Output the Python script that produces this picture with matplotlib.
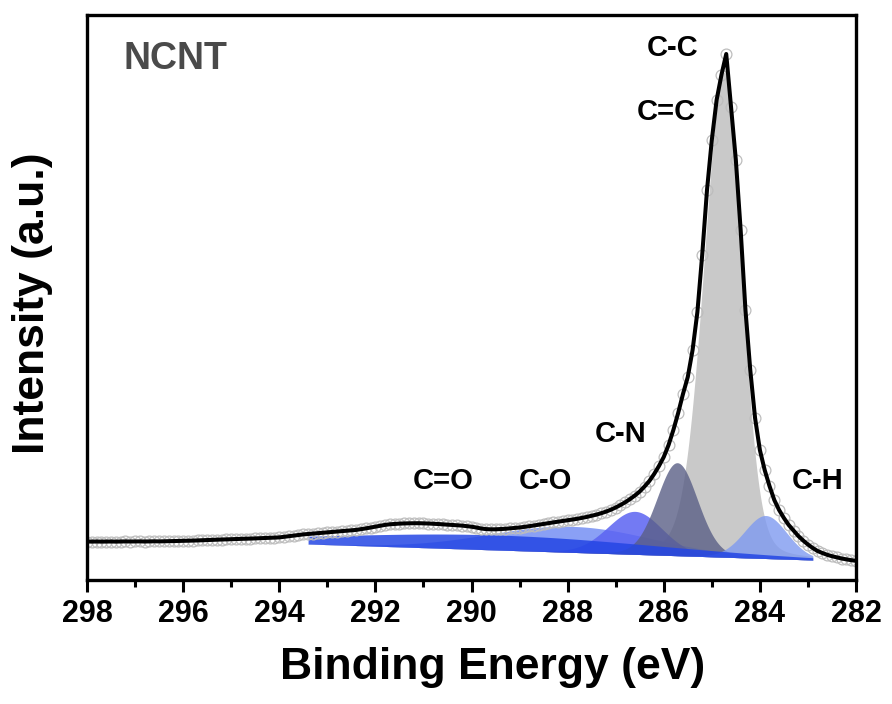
import numpy as np
import matplotlib
matplotlib.use("Agg")
import matplotlib.pyplot as plt

# measured C1s spectrum, 298.0 -> 282.0 eV in 0.1 eV steps (a.u.)
energy = np.round(np.arange(298.0, 281.95, -0.1), 1)
intensity = [
    38.5, 38.4, 38.5, 38.4, 38.5, 38.5, 38.4, 38.5, 38.6, 38.5,
    38.6, 38.6, 38.5, 38.6, 38.7, 38.6, 38.7, 38.8, 38.8, 38.9,
    39.0, 39.2, 39.4, 39.6, 39.8, 40.0, 40.2, 40.4, 40.5, 40.6,
    40.8, 41.0, 41.1, 41.3, 41.4, 41.6, 41.8, 42.0, 42.2, 42.4,
    42.6, 43.2, 43.9, 44.5, 45.1, 45.6, 46.0, 46.4, 46.8, 47.2,
    47.6, 48.0, 48.4, 48.8, 49.2, 49.6, 50.1, 50.8, 51.6, 52.5,
    53.4, 54.3, 55.1, 55.7, 56.1, 56.4, 56.6, 56.7, 56.8, 56.8,
    56.7, 56.5, 56.3, 56.0, 55.7, 55.4, 55.1, 54.8, 54.4, 53.9,
    53.3, 52.5, 51.5, 50.9, 50.7, 50.7, 50.9, 51.2, 51.6, 52.0,
    52.5, 53.1, 53.8, 54.5, 55.3, 56.1, 56.9, 57.6, 58.3, 59.0,
    59.7, 60.4, 61.2, 62.1, 63.1, 64.2, 65.4, 66.8, 68.4, 70.3,
    72.5, 75.0, 77.8, 81.0, 84.5, 88.5, 93.5, 99.0, 106, 114,
    123, 135, 150, 167, 186, 203, 230, 268, 325, 390,
    440, 480, 505, 526, 473, 420, 350, 270, 210, 162,
    130, 110, 94, 80, 70, 62, 55, 49.5, 44, 39.5,
    35.5, 32, 29, 27, 25.2, 23.8, 22.6, 21.5, 20.6, 19.8,
    19.2,
]

# fitted components: centre (eV), height, FWHM low-BE side, FWHM high-BE side, Lorentz fraction
comp_names   = ["broad", "C=O", "C-O", "C-C", "C-N", "C-H"]
comp_centre  = [289.5, 287.9, 286.6, 284.74, 285.72, 283.88]
comp_height  = [15, 26, 43, 485, 93, 43]
comp_fwhm_lo = [8.0, 4.0, 1.35, 0.84, 1.0, 1.05]
comp_fwhm_hi = [8.0, 4.0, 1.35, 1.0, 1.0, 1.05]
comp_mix     = [0.0, 0.0, 0.1, 0.15, 0.1, 0.1]
comp_colors  = ["#2446e4", "#8aa0f5", "#5b63f2", "#c9c9c9", "#5a5f86", "#7f9af0"]
comp_alpha   = [0.85, 1.0, 0.85, 1.0, 0.8, 0.8]
comp_order   = [3, 1, 2, 4, 5, 0]

# linear background over the fit window
fit_window = [293.4, 282.9]
bg_ends = [36.0, 20.0]

labels = ["C-C", "C=C", "C-N", "C=O", "C-O", "C-H"]
label_x = [285.81, 285.95, 286.89, 290.59, 288.47, 282.79]
label_y = [532, 468, 146, 99, 99, 99]


def pseudo_voigt(x, c, h, w_lo, w_hi, m):
    w = np.where(x >= c, w_hi, w_lo)
    t = ((x - c) / w) ** 2
    return h * ((1 - m) * np.exp(-4 * np.log(2) * t) + m / (1 + 4 * t))


plt.rcParams['font.family'] = ['Liberation Sans', 'DejaVu Sans']
plt.rcParams['font.weight'] = 'bold'

fig = plt.figure(figsize=(8.92, 7.04), dpi=100)
ax = fig.add_axes([87 / 892, 124 / 704, 769 / 892, 565 / 704])

xf = np.linspace(fit_window[0], fit_window[1], 600)
bg = np.linspace(bg_ends[0], bg_ends[1], 600)

for i in comp_order:
    peak = pseudo_voigt(xf, comp_centre[i], comp_height[i],
                        comp_fwhm_lo[i], comp_fwhm_hi[i], comp_mix[i])
    ax.fill_between(xf, bg, bg + peak, color=comp_colors[i],
                    alpha=comp_alpha[i], lw=0, zorder=1)

ax.plot(energy, intensity, 'o', ms=7.8, mfc='none', mec='#bdbdbd', mew=0.9, zorder=2)
ax.plot(energy, intensity, '-', color='black', lw=2.9, zorder=3)

for t, x, y in zip(labels, label_x, label_y):
    ax.text(x, y, t, fontsize=21, fontweight='bold', ha='center', va='center')
ax.text(296.17, 521, "NCNT", fontsize=27, fontweight='bold', color='#4a4a4a',
        ha='center', va='center')

ax.set_xlim(298, 282)
ax.set_ylim(0, 565)
ax.set_xticks(np.arange(298, 281, -2))
ax.set_xticks(np.arange(297, 282, -2), minor=True)
ax.set_yticks([])
ax.tick_params(axis='x', which='major', length=8.5, width=2.2, labelsize=22, pad=5)
ax.tick_params(axis='x', which='minor', length=5, width=2.2)
for lab in ax.get_xticklabels():
    lab.set_fontweight('bold')
for s in ax.spines.values():
    s.set_linewidth(2.4)

fig.text(493 / 892, 1 - 667 / 704, "Binding Energy (eV)", fontsize=32,
         fontweight='bold', ha='center', va='center')
fig.text(33 / 892, 1 - 303 / 704, "Intensity (a.u.)", fontsize=32,
         fontweight='bold', ha='center', va='center', rotation=90)

fig.savefig("out.png", dpi=100)
